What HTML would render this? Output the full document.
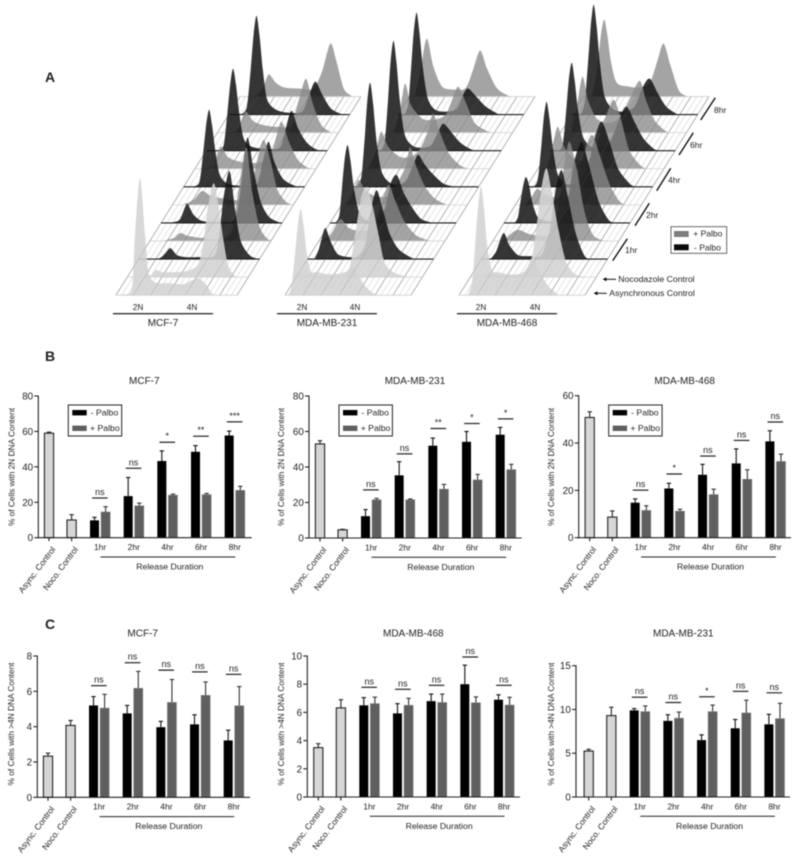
<!DOCTYPE html>
<html lang="en">
<head>
<meta charset="utf-8">
<title>Cell cycle release after Palbociclib</title>
<style>
html,body{margin:0;padding:0;background:#fff;}
#figure{display:block;width:800px;height:859px;font-family:"Liberation Sans",Arial,sans-serif;filter:blur(.4px);}
#figure text{fill:#222;}
</style>
</head>
<body>
<svg id="figure" xmlns="http://www.w3.org/2000/svg" width="800" height="859" viewBox="0 0 800 859">
  <text x="45" y="82" font-size="14" font-weight="bold">A</text>
  <text x="45" y="361" font-size="14" font-weight="bold">B</text>
  <text x="45" y="629" font-size="14" font-weight="bold">C</text>
  <g id="ridges"></g>

  <g font-size="8.5">
    <line x1="700.7" y1="120" x2="715.3" y2="97.7" stroke="#111" stroke-width="1.4"/>
    <text x="714" y="113">8hr</text>
    <line x1="679" y1="155" x2="693.3" y2="132.7" stroke="#111" stroke-width="1.4"/>
    <text x="690" y="148">6hr</text>
    <line x1="656.7" y1="190.7" x2="670.7" y2="168.3" stroke="#111" stroke-width="1.4"/>
    <text x="668" y="183">4hr</text>
    <line x1="635" y1="225.7" x2="649.3" y2="203.3" stroke="#111" stroke-width="1.4"/>
    <text x="646" y="218">2hr</text>
    <line x1="612.7" y1="260.7" x2="627.3" y2="238.7" stroke="#111" stroke-width="1.4"/>
    <text x="625" y="253">1hr</text>
  </g>

  <g>
    <rect x="671" y="226.7" width="55.7" height="26.6" fill="#fff" stroke="#444" stroke-width="0.8"/>
    <rect x="674" y="231" width="14.7" height="6" fill="#7d7d7d"/>
    <text x="693.3" y="236.3" font-size="8.5">+ Palbo</text>
    <rect x="674" y="244.3" width="14.7" height="6" fill="#0a0a0a"/>
    <text x="694" y="250.3" font-size="8.5">- Palbo</text>
  </g>

  <g font-size="8.7">
    <line x1="605" y1="279.3" x2="616" y2="279.3" stroke="#111" stroke-width="1"/>
    <polygon points="602.5,279.3 606.5,277.3 606.5,281.3" fill="#111"/>
    <text x="618.3" y="282.2">Nocodazole Control</text>
    <line x1="596" y1="293.3" x2="606.7" y2="293.3" stroke="#111" stroke-width="1"/>
    <polygon points="593.5,293.3 597.5,291.3 597.5,295.3" fill="#111"/>
    <text x="609.3" y="296.2">Asynchronous Control</text>
  </g>

  <g text-anchor="middle">
    <text x="138" y="310" font-size="8.2">2N</text>
    <text x="192" y="310" font-size="8.2">4N</text>
    <line x1="113" y1="313.7" x2="213" y2="313.7" stroke="#333" stroke-width="1.4"/>
    <text x="163" y="326" font-size="10">MCF-7</text>
    <text x="302" y="310" font-size="8.2">2N</text>
    <text x="355" y="310" font-size="8.2">4N</text>
    <line x1="277" y1="313.7" x2="377" y2="313.7" stroke="#333" stroke-width="1.4"/>
    <text x="327" y="326" font-size="10">MDA-MB-231</text>
    <text x="481" y="310" font-size="8.2">2N</text>
    <text x="535" y="310" font-size="8.2">4N</text>
    <line x1="457" y1="313.7" x2="557" y2="313.7" stroke="#333" stroke-width="1.4"/>
    <text x="507" y="326" font-size="10">MDA-MB-468</text>
  </g>
  <g id="bars"></g>
</svg>

<script>
/* ---------- Histogram data: [DNA content in N, cell count] ---------- */
const layerLabels = ['async','noco','1hr-minus','1hr-plus','2hr-minus','2hr-plus','4hr-minus','4hr-plus','6hr-minus','6hr-plus','8hr-minus','8hr-plus'];

const mcfAsync = [[1.2,0],[1.65,2],[1.75,15],[1.83,62],[2,117],[2.17,62],[2.28,25],[2.45,14],[2.7,12],[3,12],[3.5,11],[3.8,15],[4.03,17],[4.3,10],[4.45,3],[4.6,0]];
const mcfNoco = [[1.7,0],[2,2],[2.15,7],[2.4,5],[2.8,5],[3.2,6],[3.6,12],[3.8,35],[3.95,70],[4.15,94],[4.3,75],[4.5,35],[4.65,12],[4.85,2],[5,0]];
const mcf1Minus = [[1.5,0],[1.9,1],[2.1,6],[2.27,11],[2.5,4],[2.8,2],[3.3,2],[3.7,2],[3.9,12],[4.1,60],[4.31,88],[4.5,50],[4.7,18],[5,4],[5.3,0]];
const mcf1Plus = [[1.6,0],[2,3],[2.22,8],[2.5,5],[3,3],[3.6,2],[4,10],[4.25,55],[4.5,94],[4.7,50],[4.95,15],[5.2,3],[5.4,0]];
const mcf2Minus = [[1.45,0],[1.8,3],[2,16],[2.09,19],[2.3,8],[2.6,2],[3.2,1],[3.7,3],[3.9,30],[4.14,85],[4.35,55],[4.6,22],[4.9,6],[5.3,0]];
const mcf2Plus = [[1.55,0],[1.9,5],[2.2,14],[2.5,9],[3,6],[3.5,5],[3.85,12],[4.1,45],[4.32,65],[4.55,45],[4.8,15],[5.1,3],[5.3,0]];
const mcf4Minus = [[1.5,0],[1.72,5],[1.85,35],[1.95,62],[2.05,77],[2.15,62],[2.27,35],[2.42,12],[2.7,3],[3.2,1],[3.7,3],[3.9,25],[4.1,45],[4.3,25],[4.6,8],[5,1],[5.2,0]];
const mcf4Plus = [[1.55,0],[1.8,4],[2.07,22],[2.3,12],[2.6,8],[3,6],[3.5,7],[3.85,20],[4.15,47],[4.4,28],[4.7,10],[5,2],[5.2,0]];
const mcf6Minus = [[1.6,0],[1.78,6],[1.9,37],[2,66],[2.1,82],[2.2,66],[2.32,37],[2.47,12],[2.75,4],[3.2,2],[3.7,3],[3.9,20],[4.11,40],[4.35,22],[4.65,8],[5,1],[5.3,0]];
const mcf6Plus = [[1.65,0],[1.9,5],[2.14,21],[2.4,12],[2.7,8],[3.2,6],[3.7,8],[4,35],[4.23,54],[4.45,30],[4.75,8],[5.1,0]];
const mcf8Minus = [[1.6,0],[1.8,8],[1.93,45],[2.03,80],[2.13,99],[2.23,80],[2.35,45],[2.5,15],[2.8,5],[3.2,2],[3.7,3],[3.95,20],[4.16,33],[4.4,20],[4.7,6],[5.1,0]];
const mcf8Plus = [[1.7,0],[1.95,8],[2.16,22],[2.4,14],[2.7,9],[3.2,8],[3.7,8],[4,25],[4.29,53],[4.5,35],[4.75,8],[5,1],[5.1,0]];

const mb231Async = [[1.55,0],[1.68,8],[1.8,40],[1.9,70],[2,86],[2.1,70],[2.22,40],[2.38,22],[2.6,20],[3,18],[3.4,18],[3.6,22],[3.75,30],[3.95,22],[4.2,10],[4.5,2],[4.75,0]];
const mb231Noco = [[1.55,0],[2.1,5],[2.5,3],[3,4],[3.3,10],[3.5,45],[3.7,80],[3.89,90],[4.1,70],[4.3,42],[4.5,15],[4.8,5],[5.2,1],[5.4,0]];
const mb2311Minus = [[1.7,0],[1.85,10],[2.06,31],[2.25,18],[2.5,5],[2.9,2],[3.2,3],[3.45,15],[3.65,50],[3.84,69],[4.05,50],[4.3,25],[4.6,10],[5,2],[5.2,0]];
const mb2311Plus = [[1.6,0],[1.9,8],[2.2,22],[2.5,13],[2.9,10],[3.3,14],[3.6,35],[3.86,56],[4.1,40],[4.4,20],[4.8,6],[5.1,2],[5.3,0]];
const mb2312Minus = [[1.65,0],[1.78,8],[1.87,35],[1.96,63],[2.06,78],[2.16,63],[2.28,35],[2.45,12],[2.7,3],[3.1,2],[3.35,15],[3.55,40],[3.76,48],[4,30],[4.3,15],[4.6,4],[5,0]];
const mb2312Plus = [[1.6,0],[1.8,8],[2.05,25],[2.3,14],[2.7,8],[3.1,10],[3.4,22],[3.7,40],[3.83,58],[4.05,38],[4.35,18],[4.7,6],[5.1,0]];
const mb2314Minus = [[1.6,0],[1.76,10],[1.87,47],[1.96,84],[2.06,104],[2.16,84],[2.28,47],[2.45,16],[2.7,5],[3,2],[3.3,6],[3.55,22],[3.72,32],[3.95,22],[4.25,12],[4.6,3],[5,0]];
const mb2314Plus = [[1.6,0],[1.85,15],[2.05,37],[2.3,22],[2.7,12],[3.1,12],[3.4,20],[3.7,40],[3.85,55],[4.1,35],[4.4,15],[4.8,3],[5.1,0]];
const mb2316Minus = [[1.65,0],[1.79,10],[1.9,50],[1.99,89],[2.09,110],[2.19,89],[2.31,50],[2.48,16],[2.75,5],[3.1,3],[3.4,6],[3.65,20],[3.82,27],[4.1,18],[4.4,8],[4.8,1],[5.1,0]];
const mb2316Plus = [[1.7,0],[1.9,18],[2.1,49],[2.3,28],[2.7,14],[3.1,13],[3.5,18],[3.75,35],[3.94,46],[4.2,30],[4.5,10],[4.9,2],[5.1,0]];
const mb2318Minus = [[1.7,0],[1.82,10],[1.92,46],[2.01,82],[2.11,102],[2.21,82],[2.33,46],[2.5,16],[2.75,5],[3.1,3],[3.5,6],[3.75,22],[3.9,26],[4.2,17],[4.5,8],[4.9,1],[5.1,0]];
const mb2318Plus = [[1.65,0],[1.85,25],[2.07,58],[2.3,30],[2.6,10],[3,7],[3.4,8],[3.65,25],[3.91,46],[4.15,28],[4.5,8],[4.94,0]];

const mb468Async = [[1.55,0],[1.7,15],[1.81,55],[1.9,88],[2,109],[2.1,88],[2.22,48],[2.38,25],[2.6,20],[3,20],[3.4,22],[3.6,28],[3.8,39],[4,25],[4.3,10],[4.6,2],[4.7,0]];
const mb468Noco = [[1.6,0],[2.1,5],[2.5,3],[3,3],[3.3,8],[3.5,45],[3.7,90],[3.87,109],[4.05,85],[4.3,45],[4.55,15],[4.85,3],[5.2,0]];
const mb4681Minus = [[1.55,0],[1.75,8],[2,26],[2.2,14],[2.5,4],[2.9,3],[3.3,4],[3.6,30],[3.8,70],[4,89],[4.2,65],[4.5,25],[4.8,3],[5,0]];
const mb4681Plus = [[1.6,0],[2.07,11],[2.5,7],[3,5],[3.3,10],[3.55,45],[3.75,85],[3.9,99],[4.15,70],[4.4,30],[4.7,6],[5.1,0]];
const mb4682Minus = [[1.6,0],[1.72,6],[1.82,24],[1.92,40],[2,46],[2.1,38],[2.22,20],[2.4,6],[2.7,2],[3.1,3],[3.4,18],[3.65,60],[3.92,81],[4.15,60],[4.5,22],[4.85,3],[5.1,0]];
const mb4682Plus = [[1.55,0],[1.8,8],[2,16],[2.3,10],[2.7,7],[3.1,10],[3.4,30],[3.7,60],[3.9,70],[4.15,50],[4.5,20],[4.85,3],[5.1,0]];
const mb4684Minus = [[1.5,0],[1.63,8],[1.74,38],[1.83,68],[1.93,85],[2.03,68],[2.15,38],[2.32,12],[2.6,3],[3,3],[3.3,15],[3.6,50],[3.83,65],[4.1,45],[4.4,18],[4.8,3],[5,0]];
const mb4684Plus = [[1.55,0],[1.7,15],[1.92,42],[2.15,22],[2.5,10],[2.9,8],[3.2,18],[3.5,45],[3.84,69],[4.1,50],[4.4,18],[4.8,3],[5,0]];
const mb4686Minus = [[1.6,0],[1.72,8],[1.83,40],[1.92,71],[2.02,88],[2.12,71],[2.24,40],[2.41,14],[2.7,4],[3.1,4],[3.4,12],[3.7,35],[3.92,44],[4.2,28],[4.5,12],[4.9,1],[5.2,0]];
const mb4686Plus = [[1.6,0],[1.8,25],[2,56],[2.2,32],[2.5,14],[2.9,10],[3.3,15],[3.6,32],[3.97,52],[4.2,32],[4.5,12],[4.9,1],[5.1,0]];
const mb4688Minus = [[1.55,0],[1.69,12],[1.8,50],[1.9,89],[2,110],[2.1,89],[2.22,50],[2.38,18],[2.65,6],[3,3],[3.4,8],[3.7,28],[3.93,36],[4.2,22],[4.5,8],[4.9,0]];
const mb4688Plus = [[1.55,0],[1.68,18],[1.78,40],[1.88,66],[1.98,77],[2.08,62],[2.2,36],[2.4,14],[2.8,10],[3.2,9],[3.55,14],[3.8,35],[4.02,53],[4.25,32],[4.55,6],[4.85,0]];

/* ---------- Bar chart data ---------- */
const controlLabels = ['Async. Control','Noco. Control'];
const hourLabels = ['1hr','2hr','4hr','6hr','8hr'];

const bMcfTicks = [0,20,40,60,80];
const bMcfControl = [59,10];
const bMcfControlErr = [0.6,3];
const bMcfMinus = [9.8,23.5,43.3,48.5,57.7];
const bMcfMinusErr = [1.7,10.5,5.7,3.5,2.5];
const bMcfPlus = [14.5,18,24,24.3,26.7];
const bMcfPlusErr = [3,1.5,0.6,0.7,2.3];
const bMcfSigLevel = [22.4,39.2,53.9,57.3,65.4];
const bMcfSigMark = ['ns','ns','*','**','***'];

const b231Ticks = [0,20,40,60,80];
const b231Control = [53,4.6];
const b231ControlErr = [1.8,0.3];
const b231Minus = [12.3,35.3,52,54.2,58.2];
const b231MinusErr = [3.7,7.7,4.3,5.8,4.1];
const b231Plus = [21.5,21.5,27.5,32.7,38.5];
const b231PlusErr = [0.8,0.5,2.7,3.1,3];
const b231SigLevel = [27.1,47.4,61.7,64.5,67.1];
const b231SigMark = ['ns','ns','**','*','*'];

const b468Ticks = [0,20,40,60];
const b468Control = [50.8,8.7];
const b468ControlErr = [2.4,2.6];
const b468Minus = [14.8,20.8,26.6,31.4,40.7];
const b468MinusErr = [1.6,2.2,4.4,6.1,4.5];
const b468Plus = [11.5,11.2,18.2,24.7,32.2];
const b468PlusErr = [2,0.8,2.3,4,3.1];
const b468SigLevel = [20.1,26.9,34.5,41.1,48.9];
const b468SigMark = ['ns','*','ns','ns','ns'];

const cMcfTicks = [0,2,4,6,8];
const cMcfControl = [2.33,4.07];
const cMcfControlErr = [0.17,0.28];
const cMcfMinus = [5.2,4.75,3.97,4.13,3.22];
const cMcfMinusErr = [0.5,0.45,0.33,0.54,0.58];
const cMcfPlus = [5.05,6.17,5.37,5.77,5.18];
const cMcfPlusErr = [0.78,0.96,1.3,0.76,1.09];
const cMcfSigLevel = [6.32,7.62,7.2,7.1,6.96];
const cMcfSigMark = ['ns','ns','ns','ns','ns'];

const c468Ticks = [0,2,4,6,8,10];
const c468Control = [3.5,6.32];
const c468ControlErr = [0.28,0.58];
const c468Minus = [6.5,5.93,6.8,8,6.9];
const c468MinusErr = [0.55,0.69,0.5,1.35,0.35];
const c468Plus = [6.62,6.5,6.7,6.68,6.52];
const c468PlusErr = [0.46,0.5,0.6,0.42,0.55];
const c468SigLevel = [7.78,7.64,7.92,9.93,7.92];
const c468SigMark = ['ns','ns','ns','ns','ns'];

const c231Ticks = [0,5,10,15];
const c231Control = [5.25,9.3];
const c231ControlErr = [0.2,0.95];
const c231Minus = [9.9,8.7,6.5,7.85,8.3];
const c231MinusErr = [0.2,0.7,0.6,1,1.15];
const c231Plus = [9.75,9,9.75,9.6,8.95];
const c231PlusErr = [0.65,0.7,0.75,1.45,1.75];
const c231SigLevel = [11.4,10.8,11.45,12.07,11.9];
const c231SigMark = ['ns','ns','*','ns','ns'];

/* ---------- Rendering ---------- */
const NS = 'http://www.w3.org/2000/svg';
function mk(tag, attrs, parent, text) {
  const el = document.createElementNS(NS, tag);
  for (const k in attrs) el.setAttribute(k, attrs[k]);
  if (text !== undefined) el.textContent = text;
  parent.appendChild(el);
  return el;
}

/* Ridge layout */
const layerDx = 11.27, layerDy = 18.06, frontY = 295.2, pxPerN = 29, countScale = 1;
const ridgePanels = [
  {id:'mcf7', left:116, width:121, x2N:140, series:[mcfAsync,mcfNoco,mcf1Minus,mcf1Plus,mcf2Minus,mcf2Plus,mcf4Minus,mcf4Plus,mcf6Minus,mcf6Plus,mcf8Minus,mcf8Plus]},
  {id:'mdamb231', left:285, width:126, x2N:300.7, series:[mb231Async,mb231Noco,mb2311Minus,mb2311Plus,mb2312Minus,mb2312Plus,mb2314Minus,mb2314Plus,mb2316Minus,mb2316Plus,mb2318Minus,mb2318Plus]},
  {id:'mdamb468', left:459, width:126, x2N:481, series:[mb468Async,mb468Noco,mb4681Minus,mb4681Plus,mb4682Minus,mb4682Plus,mb4684Minus,mb4684Plus,mb4686Minus,mb4686Plus,mb4688Minus,mb4688Plus]}
];
function layerY(i){ return frontY - i*layerDy; }
function xDna(p, n, i){ return p.x2N + i*layerDx + (n-2)*pxPerN; }
function yCount(c, i){ return layerY(i) - c*countScale; }
function curvePath(p, pts, i) {
  const P = pts.map(d => [xDna(p,d[0],i), yCount(d[1],i)]);
  const base = layerY(i), t = 0.14;
  let s = 'M' + P[0][0].toFixed(1) + ' ' + base.toFixed(1);
  for (let k = 0; k < P.length-1; k++) {
    const a = P[Math.max(k-1,0)], b = P[k], c = P[k+1], d = P[Math.min(k+2,P.length-1)];
    const c1x = b[0]+(c[0]-a[0])*t, c1y = Math.min(base, b[1]+(c[1]-a[1])*t);
    const c2x = c[0]-(d[0]-b[0])*t, c2y = Math.min(base, c[1]-(d[1]-b[1])*t);
    s += 'C'+c1x.toFixed(1)+' '+c1y.toFixed(1)+' '+c2x.toFixed(1)+' '+c2y.toFixed(1)+' '+c[0].toFixed(1)+' '+c[1].toFixed(1);
  }
  return s + 'Z';
}
function layerStyle(i){
  if (i < 2) return {fill:'#d3d3d3', op:0.88, line:'#d0d0d0', lw:0.8};
  if (i % 2 === 0) return {fill:'#141414', op:0.86, line:'#1c1c1c', lw:1.1};
  return {fill:'#8a8a8a', op:0.78, line:'#cfcfcf', lw:0.8};
}
function hatch(p, parent, count, color, opacity, width) {
  for (let k = 0; k <= count; k++) {
    const x0 = p.left + k*p.width/count;
    const line = mk('line', {x1:x0, y1:layerY(0), x2:x0+11*layerDx, y2:layerY(11), stroke:color, 'stroke-width':width, 'stroke-opacity':opacity}, parent);
    
    
  }
}
const ridgeRoot = document.getElementById('ridges');
ridgePanels.forEach(p => {
  const g = mk('g', {}, ridgeRoot);
  
  
  hatch(p, g, 21, '#c9c9c9', 0.8, 0.6);
  hatch(p, g, 7, '#a0a0a0', 0.9, 0.7);
  for (let i = layerLabels.length-1; i >= 0; i--) {
    const st = layerStyle(i);
    const area = mk('path', {d:curvePath(p, p.series[i], i), fill:st.fill, 'fill-opacity':st.op}, g);
    
    
    const base = mk('line', {x1:p.left+i*layerDx, y1:layerY(i), x2:p.left+p.width+i*layerDx, y2:layerY(i), stroke:st.line, 'stroke-width':st.lw}, g);
    
    
  }
  hatch(p, g, 7, '#808080', 0.28, 0.6);
});

/* Bar charts */
const yTitle2N = '% of Cells with 2N DNA Content';
const yTitle4N = '% of Cells with >4N DNA Content';
const barCharts = [
  {id:'b-mcf7', title:'MCF-7', axisX:38.3, y0:537.7, yTop:396, yMax:80, xEnd:251.7, inset:10.7, titleX:144.3, titleY:380.7, yTitle:yTitle2N, yTitleX:11.7, yTitleY:467, legend:true, ticks:bMcfTicks, control:bMcfControl, controlErr:bMcfControlErr, minus:bMcfMinus, minusErr:bMcfMinusErr, plus:bMcfPlus, plusErr:bMcfPlusErr, sig:bMcfSigLevel, mark:bMcfSigMark},
  {id:'b-mdamb231', title:'MDA-MB-231', axisX:309, y0:538, yTop:396, yMax:80, xEnd:521.7, inset:11, titleX:415, titleY:380.7, yTitle:yTitle2N, yTitleX:281, yTitleY:467, legend:true, ticks:b231Ticks, control:b231Control, controlErr:b231ControlErr, minus:b231Minus, minusErr:b231MinusErr, plus:b231Plus, plusErr:b231PlusErr, sig:b231SigLevel, mark:b231SigMark},
  {id:'b-mdamb468', title:'MDA-MB-468', axisX:578.7, y0:537.7, yTop:395.7, yMax:60, xEnd:791, inset:11, titleX:684.7, titleY:380.7, yTitle:yTitle2N, yTitleX:551, yTitleY:467, legend:true, ticks:b468Ticks, control:b468Control, controlErr:b468ControlErr, minus:b468Minus, minusErr:b468MinusErr, plus:b468Plus, plusErr:b468PlusErr, sig:b468SigLevel, mark:b468SigMark},
  {id:'c-mcf7', title:'MCF-7', axisX:37.3, y0:797.3, yTop:656, yMax:8, xEnd:250, inset:10.7, titleX:142.7, titleY:633, yTitle:yTitle4N, yTitleX:11, yTitleY:724, legend:false, ticks:cMcfTicks, control:cMcfControl, controlErr:cMcfControlErr, minus:cMcfMinus, minusErr:cMcfMinusErr, plus:cMcfPlus, plusErr:cMcfPlusErr, sig:cMcfSigLevel, mark:cMcfSigMark},
  {id:'c-mdamb468', title:'MDA-MB-468', axisX:307.3, y0:797, yTop:656, yMax:10, xEnd:520, inset:11, titleX:413.3, titleY:633, yTitle:yTitle4N, yTitleX:281, yTitleY:724, legend:false, ticks:c468Ticks, control:c468Control, controlErr:c468ControlErr, minus:c468Minus, minusErr:c468MinusErr, plus:c468Plus, plusErr:c468PlusErr, sig:c468SigLevel, mark:c468SigMark},
  {id:'c-mdamb231', title:'MDA-MB-231', axisX:576, y0:797, yTop:665.7, yMax:15, xEnd:790, inset:12.7, titleX:683.3, titleY:633, yTitle:yTitle4N, yTitleX:551, yTitleY:724, legend:false, ticks:c231Ticks, control:c231Control, controlErr:c231ControlErr, minus:c231Minus, minusErr:c231MinusErr, plus:c231Plus, plusErr:c231PlusErr, sig:c231SigLevel, mark:c231SigMark}
];
const barsRoot = document.getElementById('bars');
const groupStep = 33.67, barW = 9, ink = '#222';

function drawErr(parent, name, cx, yA, yB, color) {
  const stem = mk('line', {x1:cx, y1:yA, x2:cx, y2:yB, stroke:color, 'stroke-width':1.1}, parent);
  
  
  const cap = mk('line', {x1:cx-2.2, y1:yB, x2:cx+2.2, y2:yB, stroke:color, 'stroke-width':1.1}, parent);
  
  
}

barCharts.forEach(c => {
  const g = mk('g', {}, barsRoot);
  
  
  const y = v => c.y0 - (v/c.yMax)*(c.y0-c.yTop);
  const xControl = i => c.axisX + c.inset + i*22.6;
  const xGroup = i => c.axisX + c.inset + 45.5 + i*groupStep;

  const title = mk('text', {x:c.titleX, y:c.titleY+3.5, 'font-size':10, 'text-anchor':'middle'}, g, c.title);
  
  

  const yt = mk('text', {transform:'translate('+c.yTitleX+' '+c.yTitleY+') rotate(-90)', y:3, 'font-size':8.3, 'text-anchor':'middle'}, g, c.yTitle);
  
  

  /* control bars */
  c.control.forEach((v,i) => {
    const cx = xControl(i);
    drawErr(g, c.id + '-control-' + i, cx, y(v), y(v + c.controlErr[i]), ink);
    const bar = mk('rect', {x:cx-4.6, y:y(v), width:9.2, height:c.y0-y(v), fill:'#d6d6d6', stroke:ink, 'stroke-width':1.1}, g);
    
    
    const tick = mk('line', {x1:cx, y1:c.y0, x2:cx, y2:c.y0+3.5, stroke:ink, 'stroke-width':1.1}, g);
    
    
    const lab = mk('text', {transform:'translate('+(cx+4.5)+' '+(c.y0+10)+') rotate(-53)', 'font-size':8.5, 'text-anchor':'end', y:3}, g, controlLabels[i]);
    
    
  });

  /* grouped bars */
  hourLabels.forEach((h,i) => {
    const xm = xGroup(i), xp = xm + 11.1;
    drawErr(g, c.id + '-minus-' + h, xm, y(c.minus[i]), y(c.minus[i] + c.minusErr[i]), '#111');
    const bm = mk('rect', {x:xm-barW/2, y:y(c.minus[i]), width:barW, height:c.y0-y(c.minus[i]), fill:'#000'}, g);
    
    
    drawErr(g, c.id + '-plus-' + h, xp, y(c.plus[i]), y(c.plus[i] + c.plusErr[i]), '#333');
    const bp = mk('rect', {x:xp-barW/2, y:y(c.plus[i]), width:barW, height:c.y0-y(c.plus[i]), fill:'#5f5f5f', stroke:'#7a7a7a', 'stroke-width':0.6}, g);
    
    
    const lab = mk('text', {x:xm+5.6, y:c.y0+12.3, 'font-size':8.5, 'text-anchor':'middle'}, g, h);
    
    
    const sy = y(c.sig[i]);
    const sl = mk('line', {x1:xm-2.4, y1:sy, x2:xm+13.2, y2:sy, stroke:ink, 'stroke-width':1.2}, g);
    
    
    const st = mk('text', {x:xm+5.4, y:sy-3, 'font-size':9, 'text-anchor':'middle'}, g, c.mark[i]);
    
    
  });

  /* axes */
  const ya = mk('line', {x1:c.axisX, y1:c.yTop-0.5, x2:c.axisX, y2:c.y0+0.5, stroke:ink, 'stroke-width':1.1}, g);
  
  
  const xa = mk('line', {x1:c.axisX-0.5, y1:c.y0, x2:c.xEnd, y2:c.y0, stroke:ink, 'stroke-width':1.1}, g);
  
  
  c.ticks.forEach(t => {
    const tk = mk('line', {x1:c.axisX-4, y1:y(t), x2:c.axisX, y2:y(t), stroke:ink, 'stroke-width':1.1}, g);
    
    
    const tl = mk('text', {x:c.axisX-5.2, y:y(t)+3.5, 'font-size':9.8, 'text-anchor':'end'}, g, String(t));
    
    
  });

  /* release duration bracket */
  const lineY = c.y0 + 19.3;
  const rx1 = xGroup(0) + 6, rx2 = xGroup(4) + 6;
  const rl = mk('line', {x1:rx1, y1:lineY, x2:rx2, y2:lineY, stroke:ink, 'stroke-width':1}, g);
  
  
  const rt = mk('text', {x:(rx1+rx2)/2+2, y:lineY+12.5, 'font-size':8.7, 'text-anchor':'middle'}, g, 'Release Duration');
  
  

  /* legend */
  if (c.legend) {
    const lx = c.axisX + 30, ly = 405;
    const frame = mk('rect', {x:lx, y:ly, width:53.4, height:31, fill:'#fff', stroke:ink, 'stroke-width':1}, g);
    
    
    const s1 = mk('rect', {x:lx+4, y:ly+5, width:14.4, height:5.4, fill:'#000'}, g);
    
    
    const t1 = mk('text', {x:lx+22.4, y:ly+10.3, 'font-size':8.7}, g, '- Palbo');
    
    
    const s2 = mk('rect', {x:lx+4, y:ly+20.6, width:14.4, height:5.4, fill:'#5f5f5f'}, g);
    
    
    const t2 = mk('text', {x:lx+21.7, y:ly+26, 'font-size':8.7}, g, '+ Palbo');
    
    
  }
});
</script>
</body>
</html>
